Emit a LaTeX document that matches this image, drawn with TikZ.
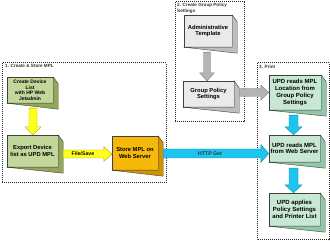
\documentclass[tikz,border=0pt]{standalone}
\usepackage{fontspec}
\setmainfont{Liberation Sans}
\usetikzlibrary{calc}
\definecolor{gfront}{HTML}{C4D79B}
\definecolor{gside}{HTML}{93A75A}
\definecolor{ofront}{HTML}{F6B90A}
\definecolor{oside}{HTML}{CF9300}
\definecolor{pfront}{HTML}{EAEAEA}
\definecolor{pside}{HTML}{BEBEBE}
\definecolor{mfront}{HTML}{C8E8D4}
\definecolor{mside}{HTML}{92C6A6}
\definecolor{yarrow}{HTML}{FFFF1A}
\definecolor{yedge}{HTML}{A8A820}
\definecolor{carrow}{HTML}{1CC4EE}
\definecolor{cedge}{HTML}{1090C0}
\definecolor{parrow}{HTML}{B4B4B4}
\definecolor{pedge}{HTML}{808080}
\newcommand\bxf{\fontsize{5.8}{6.3}\selectfont\bfseries}
\newcommand\bxs{\fontsize{5.0}{5.5}\selectfont\bfseries}
\newcommand\bxu{\fontsize{6.0}{6.7}\selectfont\bfseries}
\newcommand\grf{\fontsize{4.6}{6.0}\selectfont\bfseries}
\newcommand\boxside[2]{\filldraw[#2,draw=black!75,line width=0.4pt,line join=round]
  (#1.north east) -- ++(5,7) -- ($(#1.south east)+(5,6)$) -- (#1.south west) -- (#1.south east) -- cycle;}
\newcommand\rarrow[6]{\filldraw[#1] let \p1=(#2), \p2=(#3) in
  (\x1,\y2+#4) -- (\x2-#6,\y2+#4) -- (\x2-#6,\y2+#5) -- (\x2,\y2) --
  (\x2-#6,\y2-#5) -- (\x2-#6,\y2-#4) -- (\x1,\y2-#4) -- cycle;}
\newcommand\darrow[6]{\filldraw[#1] let \p1=(#2), \p2=(#3) in
  (\x2+#4,\y1) -- (\x2+#4,\y2+#6) -- (\x2+#5,\y2+#6) -- (\x2,\y2) --
  (\x2-#5,\y2+#6) -- (\x2-#4,\y2+#6) -- (\x2-#4,\y1) -- cycle;}
\begin{document}
\begin{tikzpicture}[x=1pt,y=-1pt,
  grp/.style={draw=black!85,line width=1pt,densely dotted},
  grplbl/.style={font=\grf,inner sep=0pt,anchor=north west,align=left,text=black!80},
  bx/.style={draw=black!75,line width=0.4pt,inner sep=0pt,align=center,text=black},
  gbox/.style={bx,fill=gfront},
  obox/.style={bx,fill=ofront},
  pbox/.style={bx,fill=pfront},
  mbox/.style={bx,fill=mfront},
  yar/.style={fill=yarrow,draw=yedge,line width=0.4pt,line join=round},
  car/.style={fill=carrow,draw=cedge,line width=0.4pt,line join=round},
  par/.style={fill=parrow,draw=pedge,line width=0.4pt,line join=round},
  arlbl/.style={font=\fontsize{5.2}{6}\selectfont\bfseries,inner sep=0pt}]
\useasboundingbox (0,0) rectangle (330,243);
\fill[white] (0,0) rectangle (330,243);
% groups
\draw[grp] (2,63) rectangle (166,183);
\draw[grp] (175,2) rectangle (244,122);
\draw[grp] (257,63) rectangle (329,240);
\node[grplbl] (g1) at (5,64.5) {1. Create \& Store MPL};
\node[grplbl] (g2) at (177,2.5) {2. Create Group Policy\\Settings};
\node[grplbl] (g3) at (259,64.5) {3. Print};
% boxes
\node[gbox,minimum width=46pt,minimum height=26pt,font=\bxs] (cd) at (30,90) {Create Device\\List\\with HP Web\\Jetadmin};
\node[gbox,minimum width=51pt,minimum height=32pt,font=\bxf] (ex) at (32.5,151) {Export Device\\list as UPD MPL};
\node[obox,minimum width=46pt,minimum height=34pt,font=\bxf] (st) at (135,153) {Store MPL on\\Web Server};
\node[pbox,minimum width=48pt,minimum height=32pt,font=\bxf] (at) at (208,31) {Administrative\\Template};
\node[pbox,minimum width=51pt,minimum height=26pt,font=\bxf] (gp) at (208.5,94) {Group Policy\\Settings};
\node[mbox,minimum width=52pt,minimum height=35pt,font=\bxu] (u1) at (295,92.5) {UPD reads MPL\\Location from\\Group Policy\\Settings};
\node[mbox,minimum width=51pt,minimum height=27pt,font=\bxu] (u2) at (294.5,148.5) {UPD reads MPL\\from Web Server};
\node[mbox,minimum width=51pt,minimum height=33pt,font=\bxu] (u3) at (294.5,209.5) {UPD applies\\Policy Settings\\and Printer List};
\boxside{cd}{gside}
\boxside{ex}{gside}
\boxside{st}{oside}
\boxside{at}{pside}
\boxside{gp}{pside}
\boxside{u1}{mside}
\boxside{u2}{mside}
\boxside{u3}{mside}
% arrows
\darrow{yar}{$(cd.south)+(0,5)$}{$(ex.north)+(0.5,0)$}{4pt}{8pt}{8pt}
\rarrow{yar}{$(ex.east)+(5,0)$}{$(st.west)+(0,1)$}{4pt}{7.5pt}{8pt}
\rarrow{car}{$(st.east)+(5,0)$}{$(u2.west)+(0,5)$}{4.5pt}{9pt}{8pt}
\darrow{par}{$(at.south)+(0,5)$}{$(gp.north)+(-1.5,0)$}{3.5pt}{7.5pt}{8pt}
\rarrow{par}{$(gp.east)+(5,0)$}{u1.west}{4pt}{7.5pt}{8pt}
\darrow{car}{$(u1.south)+(0,5)$}{$(u2.north)+(-1,0)$}{4.5pt}{8.5pt}{8pt}
\darrow{car}{$(u2.south)+(0,6)$}{$(u3.north)+(-1,0)$}{4.5pt}{8.5pt}{8pt}
% arrow labels
\node[arlbl] (fs) at (83,154) {File/Save};
\node[arlbl,text=black!80] (hg) at (210,153.5) {HTTP Get};
\end{tikzpicture}
\end{document}
